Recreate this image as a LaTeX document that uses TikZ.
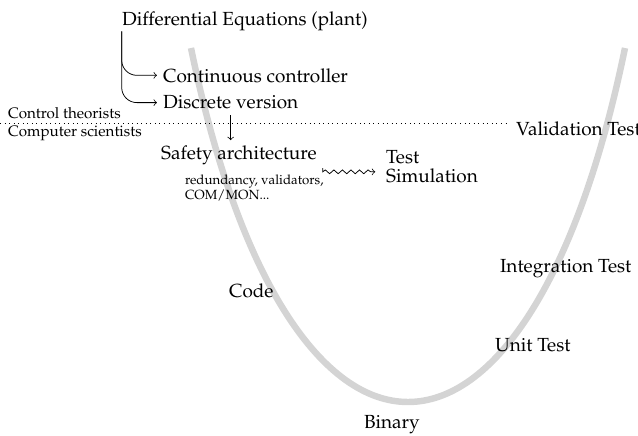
\documentclass[tikz,border=0pt]{standalone}
\usepackage[T1]{fontenc}
\usepackage{mathpazo}
\usetikzlibrary{arrows, decorations.pathmorphing}
\tikzstyle{txt} = [anchor=base west, inner sep=3pt]
\tikzstyle{side} = [txt, font=\footnotesize]
\tikzstyle{note} = [txt, font=\scriptsize, align=left]
\tikzstyle{vcurve} = [line width=3.4pt, black!17]
\tikzstyle{arrow} = [->]
\tikzstyle{branch} = [->, rounded corners=8pt]
\tikzstyle{wave} = [->, decorate, decoration={snake, amplitude=1pt, segment length=4.5pt, post length=3pt}]

\begin{document}
\begin{tikzpicture}[x=0.527pt, y=-0.527pt]
\useasboundingbox (0,0) rectangle (638,436);
% the V
\draw [vcurve] (191,48) .. controls (288,520) and (528,520) .. (625,48);

\node (diffeq) [txt] at (116,25) {Differential Equations (plant)};
\node (cont) [txt] at (157,82) {Continuous controller};
\node (disc) [txt] at (157,109) {Discrete version};
\node (ctrl) [side] at (2,118) {Control theorists};
\node (comp) [side] at (2,137) {Computer scientists};
\node (safety) [txt] at (155,160) {Safety architecture};
\node (redund) [note] at (179,200) {redundancy, validators,\\COM/MON...};
\node (sim) [txt, align=left] at (380,182) {Test\\[-2pt]Simulation};
\node (valid) [txt] at (510,136) {Validation Test};
\node (integ) [txt] at (494,273) {Integration Test};
\node (code) [txt] at (223,298) {Code};
\node (unit) [txt] at (489,352) {Unit Test};
\node (binary) [txt] at (358,429) {Binary};

\coordinate (lineL) at (0,123);
\draw [dotted] (lineL) -- (lineL -| valid.west);

\draw [branch] ([xshift=3pt,yshift=2.6pt]diffeq.south west) |- (cont.west);
\draw [branch] ([xshift=3pt,yshift=2.6pt]diffeq.south west) |- (disc.west);
\draw [arrow] (disc.south) -- (disc.south |- safety.north);
\draw [wave, shorten <=2pt, shorten >=2.5pt] ([yshift=-3pt]safety.east |- sim.west) -- ([yshift=-3pt]sim.west);
\end{tikzpicture}
\end{document}
